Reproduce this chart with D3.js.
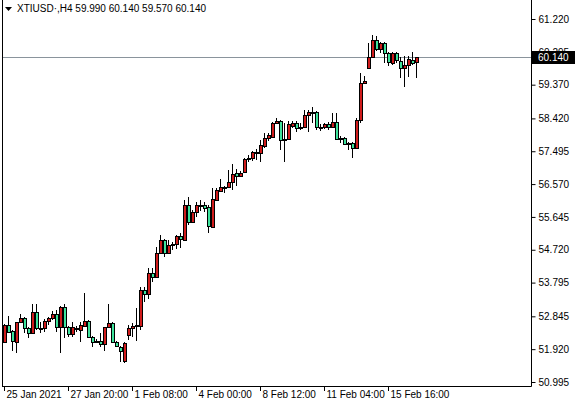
<!DOCTYPE html>
<html>
<head>
<meta charset="utf-8">
<script src="https://cdn.jsdelivr.net/npm/d3@7"></script>
<style>
  body { margin: 0; background: #fff; }
  text { font-family: "Liberation Sans", sans-serif; font-size: 10px; }
</style>
</head>
<body>
<svg id="chart" width="575" height="406"></svg>
<script>
// XTIUSD H4 candles
var opens = [52.12,52.60,52.43,52.12,52.69,52.80,52.52,52.37,52.97,52.52,52.52,52.72,52.80,52.91,52.54,53.11,52.54,52.34,52.52,52.46,
  52.57,52.72,52.26,52.15,52.15,52.06,52.54,52.66,52.12,51.98,51.58,52.32,52.52,52.57,52.57,53.59,53.47,54.06,53.95,54.63,
  55.00,54.63,54.87,54.88,55.11,55.00,55.98,55.50,55.78,55.98,55.98,55.92,55.36,56.12,56.375,56.49,56.49,56.63,56.88,56.80,
  56.91,57.28,57.30,57.45,57.45,57.64,57.87,57.90,58.29,58.35,57.84,57.84,58.205,58.29,58.18,58.18,58.52,58.57,58.60,58.18,
  58.18,58.26,58.18,58.32,57.87,57.87,57.73,57.73,57.59,58.375,59.42,59.84,60.15,60.63,60.375,60.54,60.26,59.98,60.26,60.04,
  59.84,59.92,60.065,59.99]
var highs = [52.62,52.85,52.46,52.69,52.91,52.83,52.54,53.19,53.19,52.69,52.77,52.83,53.00,53.02,53.14,53.19,52.57,52.69,52.57,52.69,
  53.50,52.74,52.29,52.21,52.37,52.54,53.19,52.69,52.15,52.01,52.12,52.60,52.66,53.08,53.67,53.67,54.20,54.20,54.80,55.14,
  55.02,55.00,54.94,55.14,55.19,56.12,56.21,55.84,56.07,56.12,56.07,55.98,56.46,56.46,56.71,56.51,56.97,57.14,56.99,56.94,
  57.30,57.39,57.50,57.56,57.81,58.01,58.01,58.32,58.43,58.375,58.29,58.35,58.35,58.35,58.29,58.66,58.66,58.74,58.63,58.26,
  58.29,58.32,58.57,58.57,57.92,57.90,57.755,57.755,58.43,59.70,59.61,60.54,60.77,60.74,60.57,60.57,60.29,60.29,60.29,60.15,
  60.18,60.18,60.29,60.14]
var lows = [52.09,52.37,51.87,51.81,52.66,52.37,52.23,52.37,52.46,52.37,52.40,52.60,52.74,52.40,51.81,52.23,52.26,52.26,52.40,52.12,
  52.54,52.23,51.98,52.09,51.98,51.87,52.52,52.09,51.98,51.56,51.53,52.18,52.26,52.15,52.46,53.25,53.33,53.81,53.95,54.60,
  54.52,54.60,54.71,54.74,54.77,54.97,55.42,55.47,55.64,55.81,55.78,55.19,55.36,56.09,56.35,56.32,56.46,56.40,56.52,56.77,
  56.88,57.19,57.22,57.25,57.19,57.59,57.78,57.87,58.26,57.53,57.19,57.81,58.15,58.04,58.09,58.15,58.03,58.29,58.09,58.06,
  58.12,58.09,58.15,57.81,57.73,57.67,57.53,57.30,57.56,58.29,59.42,59.84,60.12,60.32,60.26,59.98,59.90,59.92,59.98,59.56,
  59.30,59.59,59.92,59.57]
var closes = [52.60,52.40,52.15,52.69,52.80,52.52,52.37,52.97,52.52,52.53,52.72,52.80,52.91,52.54,53.11,52.54,52.34,52.54,52.51,52.60,
  52.72,52.26,52.12,52.14,52.06,52.54,52.66,52.12,52.01,51.87,52.09,52.52,52.57,52.60,53.59,53.47,54.06,53.95,54.63,55.00,
  54.63,54.85,54.88,55.11,55.02,55.98,55.50,55.78,55.98,55.99,55.90,55.39,56.15,56.40,56.49,56.50,56.63,56.85,56.80,56.88,
  57.28,57.30,57.47,57.47,57.67,57.87,57.95,58.29,58.35,57.81,57.83,58.26,58.29,58.15,58.15,58.52,58.60,58.60,58.18,58.17,
  58.26,58.18,58.32,57.84,57.86,57.70,57.72,57.59,58.375,59.42,59.47,60.15,60.63,60.375,60.54,60.26,60.01,60.26,60.065,59.84,
  59.92,60.09,59.98,60.14]

var priceTicks = [61.220, 60.295, 59.370, 58.420, 57.495, 56.570, 55.645, 54.720, 53.795, 52.845, 51.920, 50.995]
var timeLabels = ["25 Jan 2021", "27 Jan 20:00", "1 Feb 08:00", "4 Feb 00:00", "8 Feb 12:00", "11 Feb 04:00", "15 Feb 16:00"]
var labelStep = 16
var lastPrice = 60.140
var title = "XTIUSD\u00b7,H4  59.990 60.140 59.570 60.140"

var svg = d3.select("#chart")
var plotRight = 531, plotBottom = 386

var y = d3.scaleLinear().domain([50.995, 61.220]).range([382, 19])
var x = d3.scaleLinear().domain([0, 1]).range([3.5, 7.5])

var candles = d3.range(opens.length).map(function (i) {
  return { i: i, o: opens[i], h: highs[i], l: lows[i], c: closes[i] }
})

// frame
svg.append("line").attr("x1", 2.5).attr("x2", 2.5).attr("y1", 0).attr("y2", plotBottom + 0.5).attr("stroke", "#000")
svg.append("line").attr("x1", 2).attr("x2", plotRight + 0.5).attr("y1", plotBottom + 0.5).attr("y2", plotBottom + 0.5).attr("stroke", "#000")
svg.append("line").attr("x1", plotRight + 0.5).attr("x2", plotRight + 0.5).attr("y1", 0).attr("y2", plotBottom + 0.5).attr("stroke", "#000")

// price axis
var yAxis = d3.axisRight(y).tickValues(priceTicks).tickSize(4).tickPadding(3).tickFormat(d3.format(".3f"))
var ya = svg.append("g").attr("transform", "translate(" + (plotRight + 0.5) + ",0)").call(yAxis)
ya.select(".domain").remove()
ya.selectAll("text").attr("fill", "#000").style("font-family", "Liberation Sans").style("font-size", "10px")

// time axis
var tl = svg.append("g")
timeLabels.forEach(function (t, k) {
  var xx = Math.round(x(k * labelStep)) + 0.5
  tl.append("line").attr("x1", xx).attr("x2", xx).attr("y1", plotBottom).attr("y2", plotBottom + 5).attr("stroke", "#000")
  tl.append("text").attr("x", xx + 2).attr("y", plotBottom + 12).text(t)
})

// last price line
svg.append("line").attr("x1", 3).attr("x2", plotRight).attr("y1", Math.round(y(lastPrice)) + 0.5).attr("y2", Math.round(y(lastPrice)) + 0.5)
  .attr("stroke", "#8a949c")

// candles
var g = svg.append("g").attr("shape-rendering", "crispEdges")
g.selectAll("line.wick").data(candles).enter().append("line")
  .attr("x1", function (d) { return Math.round(x(d.i)) + 0.5 })
  .attr("x2", function (d) { return Math.round(x(d.i)) + 0.5 })
  .attr("y1", function (d) { return y(d.h) })
  .attr("y2", function (d) { return y(d.l) })
  .attr("stroke", "#000")
g.selectAll("rect").data(candles).enter().append("rect")
  .attr("x", function (d) { return Math.round(x(d.i)) - 1 })
  .attr("y", function (d) { return Math.round(y(Math.max(d.o, d.c))) + 0.5 })
  .attr("width", 3)
  .attr("height", function (d) { return Math.max(1, Math.round(Math.abs(y(d.o) - y(d.c)))) })
  .attr("fill", function (d) { return d.c >= d.o ? "#d01c1c" : "#3de39c" })
  .attr("stroke", "#000")

// current price tag
var ly = Math.round(y(lastPrice))
svg.append("rect").attr("x", plotRight + 1).attr("y", ly - 6).attr("width", 44).attr("height", 13).attr("fill", "#000")
svg.append("text").attr("x", plotRight + 7).attr("y", ly + 4).attr("fill", "#fff").text(d3.format(".3f")(lastPrice))

// title
svg.append("path").attr("d", "M5,7 L12,7 L8.5,11 Z").attr("fill", "#000")
svg.append("text").attr("x", 17).attr("y", 12).text(title)
</script>
</body>
</html>
